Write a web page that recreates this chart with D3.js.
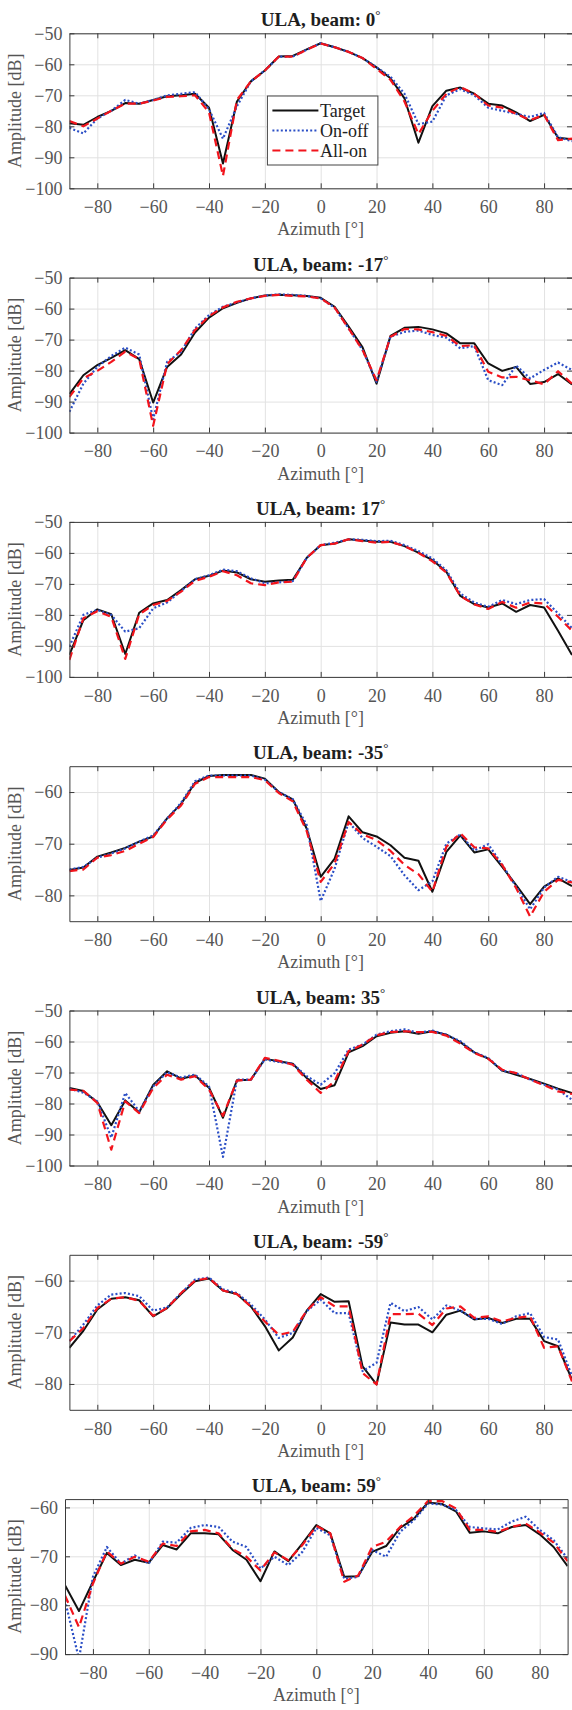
<!DOCTYPE html>
<html lang="en">
<head>
<meta charset="utf-8">
<title>ULA beam patterns</title>
<style>
body {
  margin: 0;
  background: #fff;
}
.grid line {
  stroke: #e2e2e2;
  stroke-width: 1;
}
.grid .domain {
  display: none;
}
.axis path, .axis line {
  stroke: #3a3a3a;
  stroke-width: 1;
}
</style>
</head>
<body>
<div id="chart"></div>
<script src="https://d3js.org/d3.v7.min.js"></script>
<script>
// azimuth samples (deg)
var azimuth = [-90, -85, -80, -75, -70, -65, -60, -55, -50, -45, -40, -35, -30, -25, -20, -15, -10, -5, 0,
  5, 10, 15, 20, 25, 30, 35, 40, 45, 50, 55, 60, 65, 70, 75, 80, 85, 90];
var xTicks = [-80, -60, -40, -20, 0, 20, 40, 60, 80];
var beams = [0, -17, 17, -35, 35, -59, 59];
var seriesNames = ['Target', 'On-off', 'All-on'];

// y limits and ticks of each panel
var yLimits = [[-100, -50], [-100, -50], [-100, -50], [-85, -55], [-100, -50], [-85, -55], [-90, -58.3]];
var yTicksWide = [-100, -90, -80, -70, -60, -50];
var yTicksNarrow = [-80, -70, -60];
var yTicksLast = [-90, -80, -70, -60];

// beam 0
var target0 = [-79, -79.5, -77, -75, -72.5, -72.7, -71.5, -70.3, -70, -69.5, -74, -92, -72, -65.5, -62, -57.5, -57.3, -55.2, -53.2,
  -54.5, -56, -58, -61, -64.5, -71, -85.3, -73.5, -68.5, -67.5, -69.5, -72.7, -73.3, -75.5, -78.3, -76.3, -83.7, -84.2];
var onOff0 = [-80.5, -82.3, -77.5, -75, -71.5, -72.7, -71.5, -70, -69.5, -69, -74.5, -84, -73.5, -65.5, -62, -57.5, -57.5, -55.3, -53.2,
  -54.5, -56, -58, -61, -64, -69.5, -79.3, -78.5, -70, -68, -70, -74, -75, -76, -77, -75.7, -83.5, -84.8];
var allOn0 = [-78.3, -80, -77.5, -75, -72.7, -72.7, -71.7, -70.5, -70.3, -70, -75.5, -96, -71.5, -65.5, -62, -57.5, -57.5, -55.3, -53.3,
  -54.5, -56, -58, -61.5, -65, -72, -82.5, -75, -69.5, -67.3, -69.5, -73.3, -74, -76, -78, -76.3, -84.5, -84];

// beam -17
var target1 = [-87.6, -81.5, -78.2, -75.9, -73.4, -76.3, -90.3, -78.8, -74.8, -67.7, -62.9, -59.9, -58.1, -56.7, -55.8, -55.5, -55.7, -55.9, -56.5,
  -59.4, -65.8, -72.5, -84.2, -68.8, -66.2, -65.9, -66.7, -68, -71.2, -71.2, -77.7, -80.1, -78.8, -84.3, -83.7, -81.1, -84.5];
var onOff1 = [-93.3, -84.2, -78.8, -75.3, -72.6, -74.8, -95.7, -77.2, -73.9, -66.4, -62.1, -59.4, -58, -56.7, -55.8, -55.4, -55.6, -55.9, -56.7,
  -59.7, -66.4, -73.4, -83.6, -69.1, -67.5, -67.1, -68.5, -69.4, -72.8, -72.1, -83.1, -84.7, -78.4, -82.5, -79.8, -77.4, -79.8];
var allOn1 = [-88.5, -82.5, -80.1, -77.2, -73.9, -76.3, -97.8, -77.9, -73.4, -66.9, -62.4, -59.6, -57.8, -56.7, -55.9, -55.6, -55.9, -56.1, -56.7,
  -59.7, -66.4, -73.4, -83.1, -69.1, -66.6, -66.7, -67.6, -68.8, -72.1, -71.8, -80.4, -82.2, -82, -83.1, -84.4, -80.2, -84.2];

// beam 17
var target2 = [-92.9, -81.7, -78.2, -79.8, -92.6, -79.3, -76.3, -75.2, -72, -68.5, -67.4, -65.7, -66.3, -68.5, -69.3, -68.9, -68.7, -61.6, -57.5,
  -57, -55.6, -56, -56.4, -56.4, -57.8, -59.9, -62.3, -66.1, -73.9, -76.5, -77.6, -76.3, -79, -76.8, -77.6, -85.1, -92.9];
var onOff2 = [-90.2, -80, -78.4, -80, -85.4, -84.3, -77.9, -76, -72.3, -68.5, -67.2, -65.4, -65.9, -68.2, -69.8, -69.5, -69.1, -61.6, -57.5,
  -56.7, -55.6, -55.8, -56.2, -56.1, -57.5, -59.4, -61.8, -65.6, -73.1, -76, -77.4, -75.2, -76.5, -75.2, -74.9, -79.5, -84.3];
var allOn2 = [-94.5, -81.1, -78.8, -80.6, -94.2, -79.8, -76.8, -75.5, -72.5, -69, -67.7, -65.9, -67.2, -69.8, -70.4, -69.5, -69.3, -61.6, -57.5,
  -57, -55.6, -56.2, -56.7, -56.4, -57.8, -60, -62.7, -66.3, -73.9, -76.6, -78.1, -75.8, -77.7, -76, -76.3, -80.6, -85.1];

// beam -35
var target3 = [-75.1, -74.6, -72.5, -71.7, -70.8, -69.6, -68.6, -65.1, -62.3, -58.2, -56.9, -56.7, -56.7, -56.7, -57.4, -60, -61.4, -67.1, -76.4,
  -72.9, -64.7, -67.8, -68.6, -70.3, -72.7, -73.3, -79.3, -71.6, -68.4, -71.7, -71.1, -74.5, -78, -81.7, -78.3, -76.7, -78.2];
var onOff3 = [-75, -74.5, -72.7, -71.9, -70.9, -69.6, -68.4, -65.1, -62.1, -57.9, -56.8, -56.8, -56.8, -56.8, -57.6, -60, -61.4, -66.4, -81.1,
  -74.8, -65.8, -68.9, -70.6, -72.4, -76.1, -79, -77.3, -70, -68.2, -71.3, -70.1, -74.1, -78.3, -82.7, -78.5, -76.4, -77.4];
var allOn3 = [-75.3, -75, -72.7, -72.2, -71.4, -70, -68.7, -65.3, -62.6, -58.4, -57.1, -57.1, -57.1, -57.1, -57.7, -60.2, -61.8, -67.6, -77.4,
  -73.8, -65.8, -68.2, -69.3, -71.4, -74.1, -75.9, -79.3, -70.6, -68, -70.7, -70.9, -74.1, -78.6, -84.1, -79.3, -77, -77.5];

// beam 35
var target4 = [-75, -76, -79.6, -87, -79, -82.8, -74, -69.6, -72, -71, -74.9, -84.6, -72.5, -72.3, -65.6, -66.4, -67.2, -71.8, -75.3,
  -74.1, -63.5, -61.5, -58.3, -57.2, -56.7, -57.5, -56.7, -57.8, -60.2, -63.5, -65.5, -69.4, -70.7, -72.1, -73.6, -75.2, -76.6];
var onOff4 = [-75.2, -76.5, -79.3, -91, -76.6, -82.5, -74.5, -69.9, -71.6, -70.7, -74.5, -97.2, -72.3, -72.3, -65.8, -66.6, -67.2, -71.2, -73.9,
  -70.2, -62.6, -61, -57.8, -56.7, -56.1, -57.2, -56.5, -57.8, -59.9, -63.5, -65.3, -69.4, -70.2, -72.3, -73.9, -75.5, -78.8];
var allOn4 = [-75.5, -75.9, -79.8, -94.9, -79.3, -83.1, -75, -70.7, -72.3, -71.2, -75.5, -84, -72.6, -72.3, -65.3, -66.2, -67.5, -72.3, -76.6,
  -72.8, -63.1, -61, -58, -57, -56.7, -57, -56.9, -58.1, -60.7, -63.7, -65.6, -69.1, -70.2, -72.3, -74.1, -76.1, -76.9];

// beam -59
var target5 = [-73, -69.7, -65.6, -63.5, -63.2, -63.8, -66.9, -65.3, -62.6, -60.1, -59.6, -61.9, -62.6, -65, -68.8, -73.5, -71, -65.8, -62.6,
  -64.1, -64, -76.6, -80.1, -68.1, -68.5, -68.5, -70, -66.6, -65.8, -67.5, -67.2, -68.2, -67.4, -67.4, -71.7, -72.7, -79.2];
var onOff5 = [-71.7, -68.5, -64.8, -62.7, -62.4, -63, -65.8, -65.2, -62.4, -59.8, -59.4, -61.7, -62.4, -64.6, -67.5, -71.1, -70.1, -65.9, -63.7,
  -66.3, -66.3, -77.5, -75.9, -64.3, -65.9, -65.1, -67.5, -64.8, -65.8, -67.4, -67.4, -68.4, -66.9, -66.3, -70.9, -71.4, -78.5];
var allOn5 = [-71.7, -69.2, -65.3, -63.5, -63.2, -63.9, -66.8, -65.3, -62.4, -60, -59.5, -61.9, -62.6, -65, -67.9, -70.5, -69.9, -65.8, -63.2,
  -65, -65, -77.9, -80.1, -66.5, -66.5, -66.4, -68.6, -65.4, -65, -67.2, -66.9, -67.9, -67.2, -66.9, -73, -72.7, -79.5];

// beam 59
var target6 = [-75.9, -81.2, -75.2, -69.3, -71.8, -70.7, -71.3, -67.7, -68.6, -65.3, -65.3, -65.5, -68.7, -70.7, -75.1, -69, -71, -67.4, -63.6,
  -65.3, -74.2, -74.1, -69.1, -67.9, -64.2, -62.3, -59, -59.3, -60.8, -65.2, -64.9, -65.3, -64, -63.6, -65.5, -68.1, -72];
var onOff6 = [-79, -91, -74.2, -68.1, -71.5, -69.8, -71.5, -67, -67.2, -64.2, -63.6, -64, -67, -68.1, -72.5, -70.1, -71.8, -69.1, -64.2,
  -65.7, -74.6, -74.2, -68.7, -70.1, -65, -62.6, -59.2, -59.4, -60.5, -64, -64.3, -64.5, -62.9, -61.9, -64.6, -66.7, -70.5];
var allOn6 = [-78, -84.5, -75.6, -69, -71.5, -70.1, -71.1, -67.4, -67.9, -64.9, -64.6, -65.3, -68.5, -70.1, -72.9, -69.2, -70.8, -67.7, -63.8,
  -65.3, -75.2, -73.9, -68.1, -67, -64, -61.7, -58.7, -58.7, -60.2, -64.6, -64.6, -65, -64, -63.3, -65.1, -67.2, -71];

var panels = [
  { target: target0, onOff: onOff0, allOn: allOn0, yTicks: yTicksWide },
  { target: target1, onOff: onOff1, allOn: allOn1, yTicks: yTicksWide },
  { target: target2, onOff: onOff2, allOn: allOn2, yTicks: yTicksWide },
  { target: target3, onOff: onOff3, allOn: allOn3, yTicks: yTicksNarrow },
  { target: target4, onOff: onOff4, allOn: allOn4, yTicks: yTicksWide },
  { target: target5, onOff: onOff5, allOn: allOn5, yTicks: yTicksNarrow },
  { target: target6, onOff: onOff6, allOn: allOn6, yTicks: yTicksLast }
];

// layout
var width = 572, height = 1710;
var plotW = 502.6, plotH = 155;
var firstTop = 33.3, step = 244.3;
var serif = 'Liberation Serif';

var styles = {
  'Target': { color: '#111', dash: null, width: 2 },
  'On-off': { color: '#2b4fc6', dash: '2,2.2', width: 2.2 },
  'All-on': { color: '#f2141c', dash: '8,5', width: 2.2 }
};

var svg = d3.select('#chart')
  .append('svg')
  .attr('width', width)
  .attr('height', height);

panels.forEach(function(p, i) {
  var left = i === 6 ? 65 : 69.4;
  var top = firstTop + i * step;
  var g = svg.append('g')
    .attr('transform', 'translate(' + left + ',' + top + ')');

  var x = d3.scaleLinear().domain([-90, 90]).range([0, plotW]);
  var y = d3.scaleLinear().domain(yLimits[i]).range([plotH, 0]);

  // grid
  g.append('g')
    .attr('class', 'grid')
    .attr('transform', 'translate(0,' + plotH + ')')
    .call(d3.axisBottom(x).tickValues(xTicks).tickSize(-plotH).tickFormat(''));
  g.append('g')
    .attr('class', 'grid')
    .call(d3.axisLeft(y).tickValues(p.yTicks).tickSize(-plotW).tickFormat(''));

  // data
  g.append('clipPath')
    .attr('id', 'clip' + i)
    .append('rect')
    .attr('width', plotW)
    .attr('height', plotH);

  var line = d3.line()
    .x(function(d, k) { return x(azimuth[k]); })
    .y(function(d) { return y(d); });

  var series = [['Target', p.target], ['On-off', p.onOff], ['All-on', p.allOn]];
  series.forEach(function(s) {
    var st = styles[s[0]];
    g.append('path')
      .datum(s[1])
      .attr('clip-path', 'url(#clip' + i + ')')
      .attr('fill', 'none')
      .attr('stroke', st.color)
      .attr('stroke-width', st.width)
      .attr('stroke-dasharray', st.dash)
      .attr('stroke-linejoin', 'round')
      .attr('d', line);
  });

  // axes, ticks point inward on all four sides
  g.append('g')
    .attr('class', 'axis')
    .attr('transform', 'translate(0,' + plotH + ')')
    .call(d3.axisBottom(x).tickValues(xTicks).tickSizeInner(-5).tickSizeOuter(0).tickPadding(12));
  g.append('g')
    .attr('class', 'axis')
    .call(d3.axisTop(x).tickValues(xTicks).tickSizeInner(-5).tickSizeOuter(0).tickFormat(''));
  g.append('g')
    .attr('class', 'axis')
    .call(d3.axisLeft(y).tickValues(p.yTicks).tickSizeInner(-5).tickSizeOuter(0).tickPadding(7));
  g.append('g')
    .attr('class', 'axis')
    .attr('transform', 'translate(' + plotW + ',0)')
    .call(d3.axisRight(y).tickValues(p.yTicks).tickSizeInner(-5).tickSizeOuter(0).tickFormat(''));
  g.selectAll('.axis text')
    .attr('font-family', serif)
    .attr('font-size', 18)
    .attr('fill', '#555');

  // title with superscript degree
  var title = g.append('text')
    .attr('x', plotW / 2)
    .attr('y', -7)
    .attr('text-anchor', 'middle')
    .attr('font-family', serif)
    .attr('font-size', 19)
    .attr('font-weight', 'bold')
    .attr('fill', '#1e1e1e');
  title.append('tspan').text('ULA, beam: ' + beams[i]);
  title.append('tspan')
    .attr('dy', -7)
    .attr('font-size', 13)
    .attr('font-weight', 'normal')
    .text('\u00b0');

  g.append('text')
    .attr('x', plotW / 2)
    .attr('y', plotH + 47)
    .attr('text-anchor', 'middle')
    .attr('font-family', serif)
    .attr('font-size', 18)
    .attr('fill', '#555')
    .text('Azimuth [\u00b0]');

  g.append('text')
    .attr('transform', 'rotate(-90)')
    .attr('x', -plotH / 2)
    .attr('y', i === 6 ? -50.4 : -54.8)
    .attr('dy', '0.35em')
    .attr('text-anchor', 'middle')
    .attr('font-family', serif)
    .attr('font-size', 18)
    .attr('fill', '#555')
    .text('Amplitude [dB]');

  // legend only on the first panel
  if (i === 0) {
    var lg = g.append('g')
      .attr('transform', 'translate(198,62.7)');
    lg.append('rect')
      .attr('width', 110.5)
      .attr('height', 69)
      .attr('fill', '#fff')
      .attr('stroke', '#444')
      .attr('stroke-width', 1);
    seriesNames.forEach(function(name, k) {
      var st = styles[name];
      var ry = 14.5 + k * 20;
      lg.append('line')
        .attr('x1', 5).attr('x2', 51)
        .attr('y1', ry).attr('y2', ry)
        .attr('stroke', st.color)
        .attr('stroke-width', st.width)
        .attr('stroke-dasharray', st.dash);
      lg.append('text')
        .attr('x', 52.5)
        .attr('y', ry)
        .attr('dy', '0.35em')
        .attr('font-family', serif)
        .attr('font-size', 18)
        .attr('fill', '#222')
        .text(name);
    });
  }
});
</script>
</body>
</html>
